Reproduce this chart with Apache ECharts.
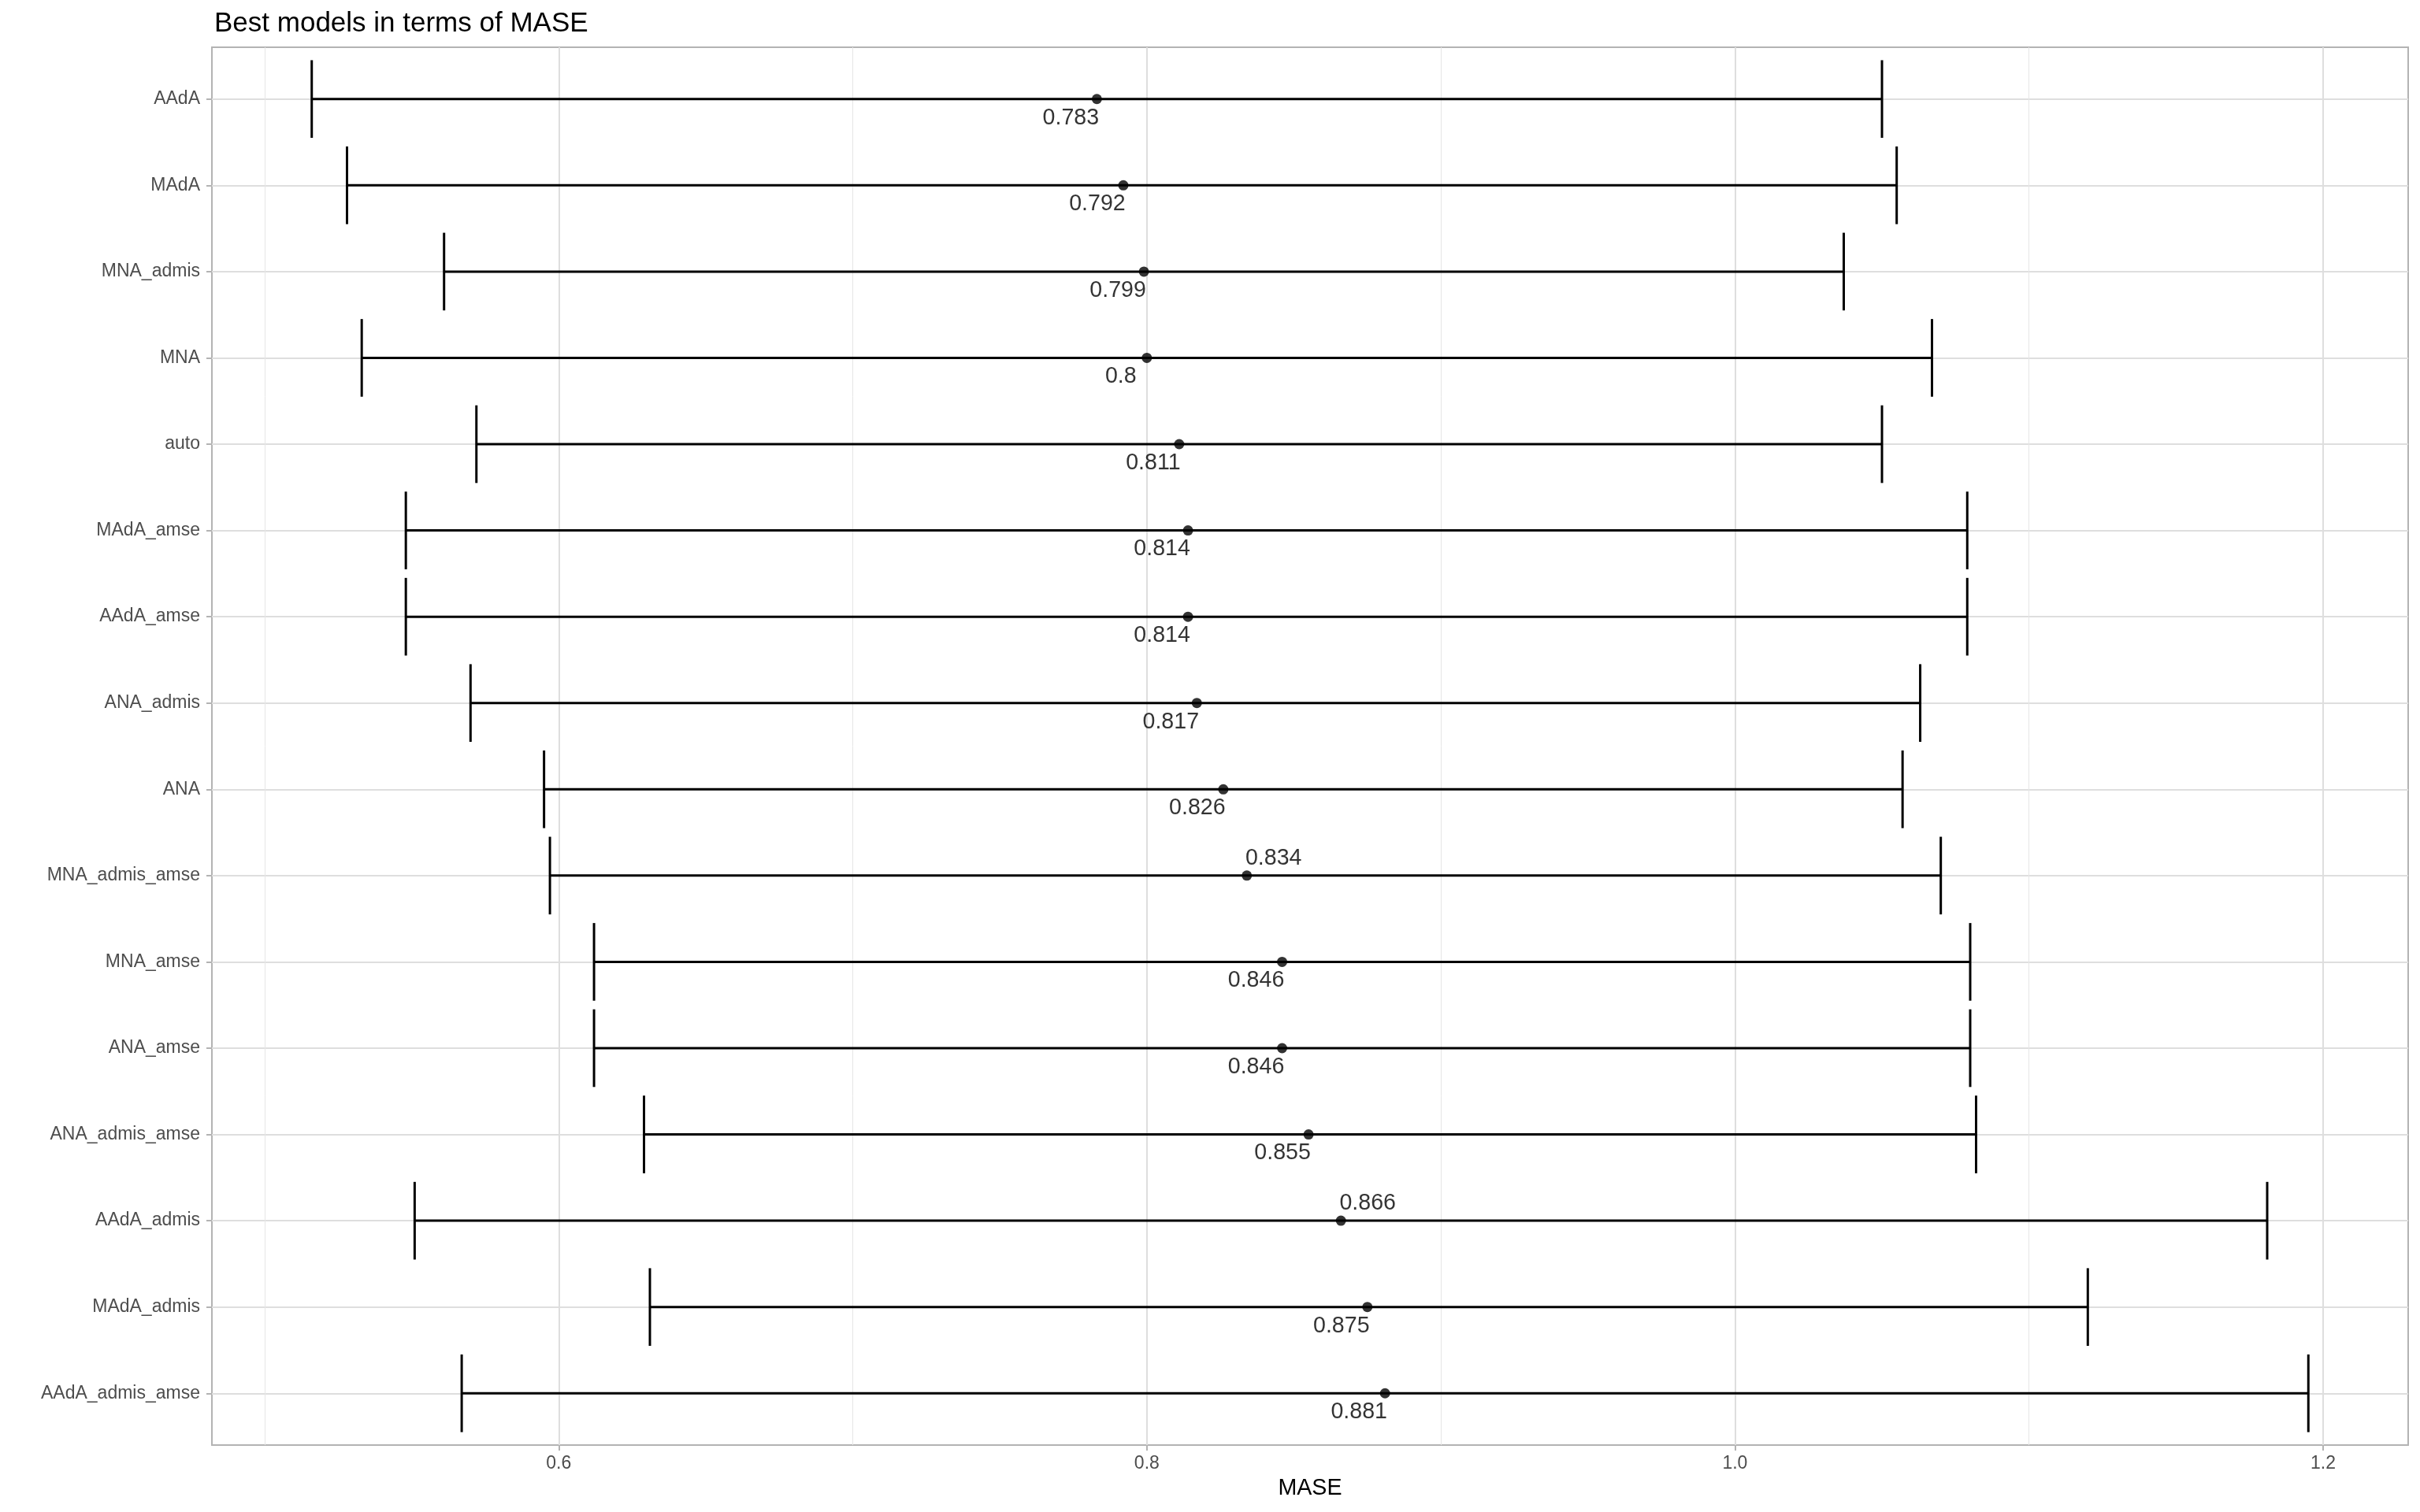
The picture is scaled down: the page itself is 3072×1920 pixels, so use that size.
<!DOCTYPE html>
<html>
<head>
<meta charset="utf-8">
<script src="https://cdn.jsdelivr.net/npm/echarts@6/dist/echarts.min.js"></script>
<style>
html,body{margin:0;padding:0;background:#fff;}
#chart{width:3072px;height:1920px;}
</style>
</head>
<body>
<div id="chart"></div>
<script>
const categories = ['AAdA','MAdA','MNA_admis','MNA','auto','MAdA_amse','AAdA_amse','ANA_admis','ANA','MNA_admis_amse','MNA_amse','ANA_amse','ANA_admis_amse','AAdA_admis','MAdA_admis','AAdA_admis_amse'];
const means = [0.783,0.792,0.799,0.8,0.811,0.814,0.814,0.817,0.826,0.834,0.846,0.846,0.855,0.866,0.875,0.881];
const lower = [0.516,0.528,0.561,0.533,0.572,0.548,0.548,0.570,0.595,0.597,0.612,0.612,0.629,0.551,0.631,0.567];
const upper = [1.050,1.055,1.037,1.067,1.050,1.079,1.079,1.063,1.057,1.070,1.080,1.080,1.082,1.181,1.120,1.195];
const labelSide = ['below','below','below','below','below','below','below','below','below','above','below','below','below','above','below','below'];
const majorTicks = [0.6,0.8,1.0,1.2];
const minorTicks = [0.5,0.7,0.9,1.1];
const titleText = 'Best models in terms of MASE';
const xTitle = 'MASE';

// ggplot-like 5% expansion of the continuous axis
const dMin = Math.min(...lower), dMax = Math.max(...upper);
const xMin = dMin - 0.05*(dMax-dMin), xMax = dMax + 0.05*(dMax-dMin);

const W = 3072, H = 1920;
const outer = {left:269, right:15, top:60, bottom:85};
const plotH = H - outer.top - outer.bottom;
const step = plotH / (categories.length - 1 + 1.2);
const inner = {left:outer.left, right:outer.right, top:outer.top + 0.6*step, bottom:outer.bottom + 0.6*step};

const FONT = 'Liberation Sans';
const chart = echarts.init(document.getElementById('chart'), null, {renderer:'canvas'});

const gridLines = minorTicks.map(v => ({xAxis:v, lineStyle:{width:1, color:'#e6e6e6', type:'solid'}}))
  .concat(majorTicks.map(v => ({xAxis:v, lineStyle:{width:2, color:'#dedede', type:'solid'}})));

const option = {
  backgroundColor:'#ffffff',
  animation:false,
  textStyle:{fontFamily:FONT},
  title:{
    text:titleText, left:outer.left - 2, top:8,
    textStyle:{fontFamily:FONT, fontSize:35, fontWeight:'normal', color:'#000'}
  },
  grid:[
    {left:outer.left, right:outer.right, top:outer.top, bottom:outer.bottom, show:true, borderColor:'#b3b3b3', borderWidth:2, backgroundColor:'transparent'},
    {left:inner.left, right:inner.right, top:inner.top, bottom:inner.bottom}
  ],
  xAxis:[
    {
      gridIndex:0, type:'value', min:xMin, max:xMax,
      axisLine:{show:false},
      splitLine:{show:false},
      axisTick:{show:true, customValues:majorTicks, length:7, lineStyle:{color:'#b3b3b3', width:2}},
      axisLabel:{customValues:majorTicks, formatter:v => Number(v).toFixed(1), color:'#4d4d4d', fontSize:23, fontFamily:FONT, margin:12},
      name:xTitle, nameLocation:'middle', nameGap:41,
      nameTextStyle:{color:'#000', fontSize:28.6, fontFamily:FONT}
    },
    {gridIndex:1, type:'value', min:xMin, max:xMax, show:false, splitLine:{show:false}}
  ],
  yAxis:[
    {gridIndex:0, type:'value', min:0, max:1, show:false, splitLine:{show:false}},
    {
      gridIndex:1, type:'category', data:categories, inverse:true, boundaryGap:false,
      axisLine:{show:false},
      axisTick:{show:true, length:7, lineStyle:{color:'#b3b3b3', width:2}},
      axisLabel:{interval:0, color:'#4d4d4d', fontSize:23, fontFamily:FONT, margin:15},
      splitLine:{show:true, lineStyle:{color:'#dedede', width:2}}
    }
  ],
  series:[
    {
      type:'line', xAxisIndex:0, yAxisIndex:0, data:[], silent:true, z:0,
      markLine:{silent:true, z:0, symbol:['none','none'], label:{show:false}, animation:false,
        lineStyle:{type:'solid'}, emphasis:{disabled:true}, data:gridLines}
    },
    {
      type:'custom', xAxisIndex:1, yAxisIndex:1, z:3,
      data:categories.map((c,i) => [i, lower[i], upper[i]]),
      encode:{x:[1,2], y:0},
      renderItem:function(params, api){
        const yi = api.value(0);
        const p1 = api.coord([api.value(1), yi]);
        const p2 = api.coord([api.value(2), yi]);
        const half = api.size([0,1])[1]*0.45;
        const st = {stroke:'#000', lineWidth:3};
        return {type:'group', children:[
          {type:'line', shape:{x1:p1[0], y1:p1[1], x2:p2[0], y2:p2[1]}, style:st},
          {type:'line', shape:{x1:p1[0], y1:p1[1]-half, x2:p1[0], y2:p1[1]+half}, style:st},
          {type:'line', shape:{x1:p2[0], y1:p2[1]-half, x2:p2[0], y2:p2[1]+half}, style:st}
        ]};
      }
    },
    {
      type:'scatter', xAxisIndex:1, yAxisIndex:1, z:4,
      symbol:'circle', symbolSize:13,
      itemStyle:{color:'#000'},
      data:means.map((m,i) => ({
        value:[m, i],
        label:{offset: labelSide[i] === 'above' ? [34,-22] : [-33,24]}
      })),
      label:{
        show:true, position:'inside', color:'#000', fontSize:28.6, fontFamily:FONT,
        textBorderWidth:0, textBorderColor:'transparent',
        formatter:p => String(p.value[0])
      }
    }
  ]
};
chart.setOption(option);
</script>
</body>
</html>
